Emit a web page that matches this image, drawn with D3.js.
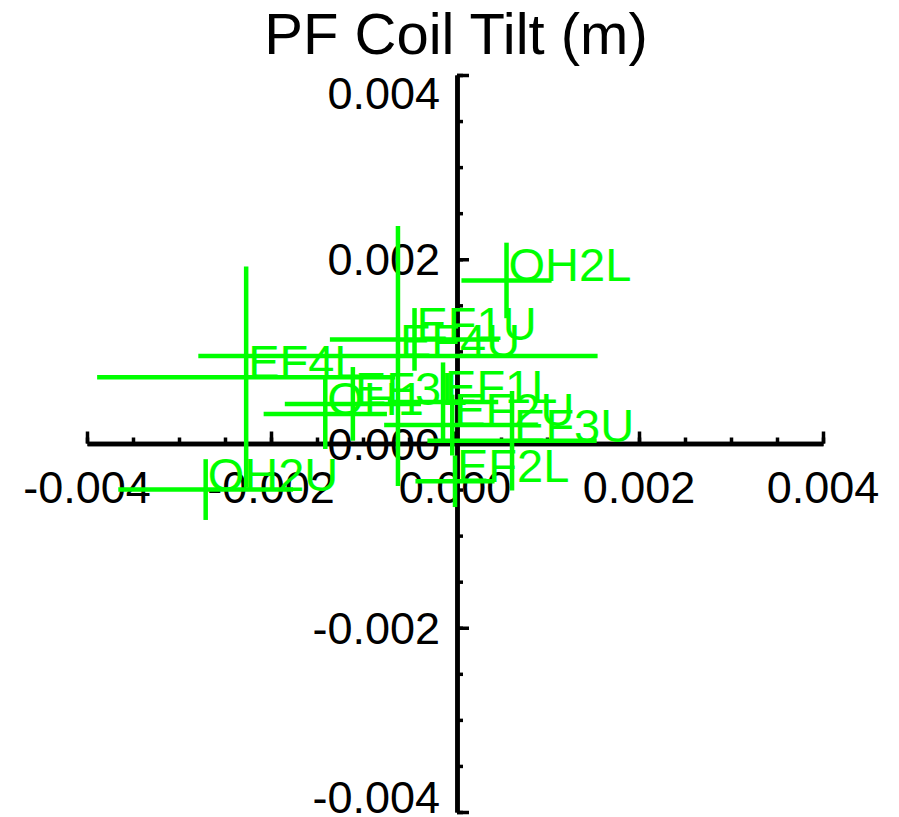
<!DOCTYPE html>
<html>
<head>
<meta charset="utf-8">
<script src="https://cdn.jsdelivr.net/npm/d3@7"></script>
<style>
  body { margin: 0; background: #fff; }
  svg text { font-family: "Liberation Sans", Arial, Helvetica, sans-serif; }
</style>
</head>
<body>
<svg id="tilt_svg" width="899" height="817"></svg>
<script>
// coil names and tilt values (m)
var coils = ["OH2L", "EF1U", "EF4U", "EF4L", "OH1", "EF3L", "EF1L", "EF2U", "EF3U", "EF2L", "OH2U"];
var tiltX = [0.00056, -0.00044, -0.00062, -0.00227, -0.00141, -0.00111, -0.00013, -0.00003, 0.00062, 0.0, -0.00271];
var tiltY = [0.00177, 0.00113, 0.00095, 0.00072, 0.00032, 0.00043, 0.00045, 0.0002, 0.00003, -0.00041, -0.0005];
var errX = [0.00049, 0.00092, 0.00217, 0.00162, 0.00067, 0.00074, 0.0006, 0.00074, 0.00092, 0.00043, 0.00095];
var errY = [0.00041, 0.00034, 0.00141, 0.0012, 0.00038, 0.0004, 0.00043, 0.00033, 0.00054, 0.00028, 0.00033];

var majorTicks = [-0.004, -0.002, 0, 0.002, 0.004];
var tickLabels = ["-0.004", "-0.002", "0.000", "0.002", "0.004"];

var svg = d3.select("#tilt_svg");
var green = "#00ff00";

var xScale = d3.scaleLinear().domain([-0.004, 0.004]).range([87, 823]);
var yScale = d3.scaleLinear().domain([-0.004, 0.004]).range([812, 75]);

// title
svg
  .append("text")
  .attr("x", 456)
  .attr("y", 54)
  .attr("text-anchor", "middle")
  .style("font-size", "58px")
  .text("PF Coil Tilt (m)");

// x axis: ticks point up, labels below
var xAxisG = svg.append("g").attr("transform", "translate(0," + yScale(0) + ")");
xAxisG
  .append("g")
  .call(d3.axisTop(xScale).ticks(16).tickSizeInner(6).tickSizeOuter(0).tickFormat(""));
xAxisG
  .append("g")
  .call(d3.axisTop(xScale).tickValues(majorTicks).tickSizeInner(12).tickSizeOuter(0).tickFormat(""));
xAxisG.selectAll(".domain").attr("stroke", "black").attr("stroke-width", 4.5);
xAxisG.selectAll(".tick line").attr("stroke", "black").attr("stroke-width", 3.5);

xAxisG
  .selectAll(".xlabel")
  .data(majorTicks)
  .enter()
  .append("text")
  .attr("class", "xlabel")
  .attr("x", function (d) {
    return xScale(d);
  })
  .attr("y", 59)
  .attr("text-anchor", "middle")
  .style("font-size", "45px")
  .text(function (d, i) {
    return tickLabels[i];
  });

// y axis: ticks point right, labels on the left
var yAxisG = svg.append("g").attr("transform", "translate(" + (xScale(0) + 2) + ",0)");
yAxisG
  .append("g")
  .call(d3.axisRight(yScale).ticks(16).tickSizeInner(6).tickSizeOuter(0).tickFormat(""));
yAxisG
  .append("g")
  .call(d3.axisRight(yScale).tickValues(majorTicks).tickSizeInner(12).tickSizeOuter(0).tickFormat(""));
yAxisG.selectAll(".domain").attr("stroke", "black").attr("stroke-width", 4.5);
yAxisG.selectAll(".tick line").attr("stroke", "black").attr("stroke-width", 3.5);

yAxisG
  .selectAll(".ylabel")
  .data(majorTicks)
  .enter()
  .append("text")
  .attr("class", "ylabel")
  .attr("x", -17)
  .attr("y", function (d) {
    // end labels are kept inside the axis range
    return Math.min(Math.max(yScale(d), 93), 797) + 16;
  })
  .attr("text-anchor", "end")
  .style("font-size", "45px")
  .text(function (d, i) {
    return tickLabels[i];
  });

// error bar crosses with labels
var pts = svg
  .append("g")
  .selectAll("g")
  .data(coils)
  .enter()
  .append("g");

pts
  .append("line")
  .attr("x1", function (d, i) {
    return xScale(tiltX[i] - errX[i]);
  })
  .attr("x2", function (d, i) {
    return xScale(tiltX[i] + errX[i]);
  })
  .attr("y1", function (d, i) {
    return yScale(tiltY[i]);
  })
  .attr("y2", function (d, i) {
    return yScale(tiltY[i]);
  })
  .attr("stroke", green)
  .attr("stroke-width", 4.5);

pts
  .append("line")
  .attr("x1", function (d, i) {
    return xScale(tiltX[i]);
  })
  .attr("x2", function (d, i) {
    return xScale(tiltX[i]);
  })
  .attr("y1", function (d, i) {
    return yScale(tiltY[i] - errY[i]);
  })
  .attr("y2", function (d, i) {
    return yScale(tiltY[i] + errY[i]);
  })
  .attr("stroke", green)
  .attr("stroke-width", 4.5);

pts
  .append("text")
  .attr("x", function (d, i) {
    return xScale(tiltX[i]) + 2;
  })
  .attr("y", function (d, i) {
    return yScale(tiltY[i]) + 1;
  })
  .attr("fill", green)
  .style("font-size", "47px")
  .text(function (d) {
    return d;
  });
</script>
</body>
</html>
